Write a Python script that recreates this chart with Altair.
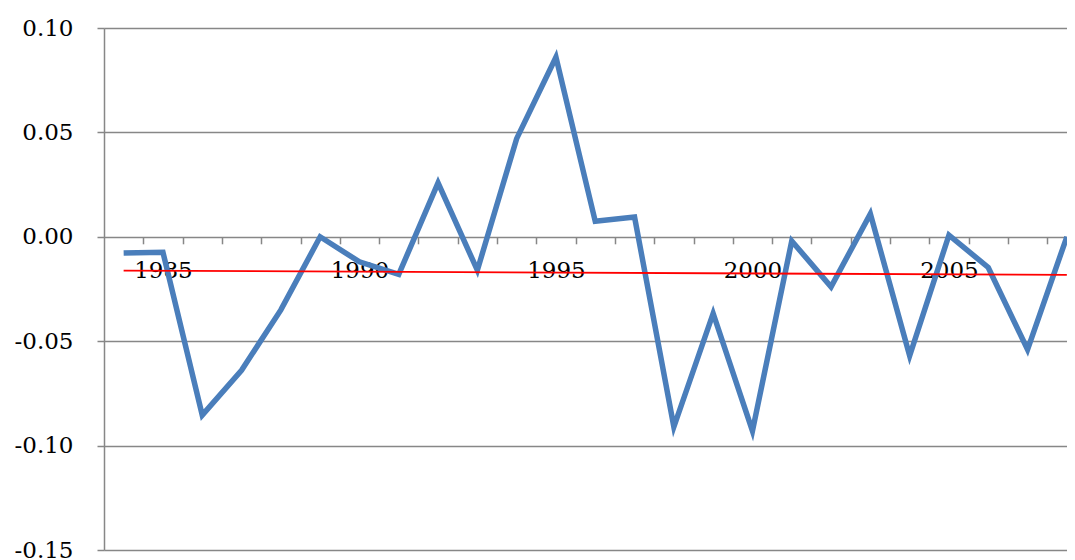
import altair as alt
import pandas as pd

years = list(range(1984, 2009))
values = [-0.0078, -0.0074, -0.0854, -0.0639, -0.035, 0.000, -0.012, -0.018,
          0.0258, -0.016, 0.047, 0.086, 0.0074, 0.0095, -0.091, -0.0367,
          -0.093, -0.002, -0.024, 0.011, -0.057, 0.0008, -0.0147, -0.054, 0.000]
y_ticks = [0.10, 0.05, 0.00, -0.05, -0.10, -0.15]

df = pd.DataFrame({"year": years, "value": values})

W, H = 963, 522
band = 39.3
x_max = 1983.5 + W / band
font = "DejaVu Serif"

x_scale = alt.Scale(domain=[1983.5, x_max], nice=False, zero=False)
y_scale = alt.Scale(domain=[-0.15, 0.10], nice=False)

x_axis = alt.Axis(
    values=years, offset=-H * 0.15 / 0.25, tickOffset=band / 2, labelOffset=-band / 2,
    labelExpr="datum.value % 5 == 0 ? '' + datum.value : ''",
    title=None, grid=False, domain=False, tickColor="#878787", tickWidth=1.5, tickSize=7,
    labelFont=font, labelFontSize=23, labelColor="black", labelPadding=16,
    labelOverlap=False, labelFlush=False,
)
y_axis = alt.Axis(
    values=y_ticks, title=None, grid=True, gridColor="#878787", gridWidth=1.5,
    domainColor="#878787", domainWidth=1.5, tickColor="#878787", tickWidth=1.5, tickSize=7,
    labelExpr="replace(format(datum.value, '.2f'), '\u2212', '-')",
    labelFont=font, labelFontSize=23, labelColor="black", labelPadding=24,
)

base = alt.Chart(df)
line = base.mark_line(color="#4A7EBB", strokeWidth=5.5, strokeJoin="miter").encode(
    x=alt.X("year:Q", scale=x_scale, axis=x_axis),
    y=alt.Y("value:Q", scale=y_scale, axis=y_axis),
)
trend = base.transform_regression("year", "value", extent=[1984, 2008]).mark_line(
    color="#FF0000", strokeWidth=1.8
).encode(
    x=alt.X("year:Q", scale=x_scale),
    y=alt.Y("value:Q", scale=y_scale),
)

chart = alt.layer(line, trend).properties(
    width=W, height=H,
    padding={"left": 96, "top": 20, "right": 0, "bottom": 10},
    autosize=alt.AutoSizeParams(type="none"),
).configure_view(stroke=None).configure(background="white")

chart.save("out.html", embed_options={"renderer": "svg", "actions": False})
